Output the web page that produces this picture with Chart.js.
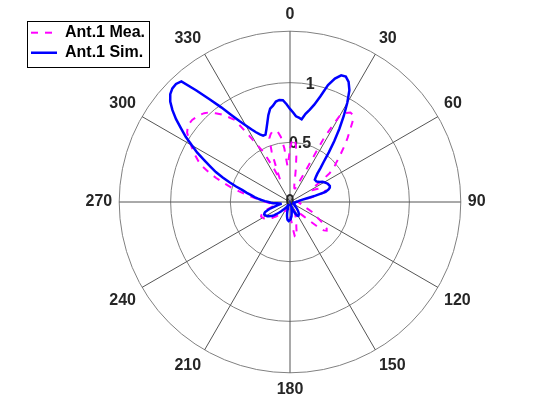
<!DOCTYPE html>
<html><head><meta charset="utf-8">
<script src="https://cdn.jsdelivr.net/npm/chart.js@4.4.0/dist/chart.umd.min.js"></script>
<style>html,body{margin:0;padding:0;background:#fff;} canvas{display:block;}</style>
</head><body>
<canvas id="c" width="560" height="420"></canvas>
<script>
// ---------- data ----------
const angleStep = 2;
const angles = Array.from({length: 360 / angleStep}, (_, i) => i * angleStep); // theta categories, degrees
const thetaTicks = [0, 30, 60, 90, 120, 150, 180, 210, 240, 270, 300, 330];
const rTicks = [0, 0.5, 1];
const rMax = 1.431;
const seriesNames = ['Ant.1 Mea.', 'Ant.1 Sim.'];

// Ant.1 Mea. (one value every 2 degrees, 0..358)
const meaValues = [
 0.45,0.52,0.53,0.48,0.38,0.28,0.20,0.15,0.13,0.12, // 0-18
 0.12,0.13,0.16,0.25,0.62,0.84,0.88,0.905,0.90,0.85, // 20-38
 0.78,0.72,0.66,0.60,0.55,0.50,0.47,0.41,0.32,0.24, // 40-58
 0.20,0.21,0.25,0.28,0.30,0.31,0.31,0.30,0.25,0.18, // 60-78
 0.12,0.10,0.08,0.07,0.07,0.07,0.07,0.08,0.08,0.09, // 80-98
 0.09,0.10,0.10,0.11,0.12,0.14,0.17,0.20,0.22,0.25, // 100-118
 0.27,0.31,0.34,0.38,0.39,0.37,0.30,0.22,0.17,0.14, // 120-138
 0.12,0.10,0.09,0.08,0.08,0.08,0.08,0.09,0.10,0.12, // 140-158
 0.14,0.16,0.19,0.22,0.27,0.30,0.29,0.22,0.16,0.13, // 160-178
 0.12,0.10,0.09,0.08,0.07,0.07,0.06,0.06,0.06,0.06, // 180-198
 0.06,0.07,0.07,0.08,0.08,0.09,0.10,0.11,0.12,0.13, // 200-218
 0.14,0.15,0.17,0.18,0.20,0.21,0.23,0.24,0.25,0.26, // 220-238
 0.26,0.27,0.27,0.26,0.25,0.22,0.20,0.17,0.15,0.14, // 240-258
 0.13,0.14,0.15,0.16,0.18,0.20,0.23,0.26,0.29,0.33, // 260-278
 0.38,0.44,0.51,0.58,0.65,0.72,0.79,0.84,0.88,0.92, // 280-298
 0.96,1.00,1.04,1.06,1.07,1.07,1.06,1.05,1.035,1.01, // 300-318
 0.97,0.93,0.88,0.83,0.68,0.56,0.47,0.33,0.20,0.30, // 320-338
 0.45,0.56,0.59,0.61,0.61,0.60,0.55,0.45,0.30,0.35  // 340-358
];

// Ant.1 Sim. (one value every 2 degrees, 0..358)
const simValues = [
 0.78,0.75,0.72,0.71,0.70,0.75,0.79,0.84,0.92,1.03, // 0-18
 1.10,1.145,1.15,1.12,1.06,0.96,0.85,0.74,0.63,0.53, // 20-38
 0.44,0.38,0.33,0.30,0.28,0.28,0.28,0.29,0.30,0.32, // 40-58
 0.33,0.34,0.35,0.355,0.36,0.355,0.34,0.31,0.22,0.14, // 60-78
 0.10,0.08,0.07,0.06,0.06,0.05,0.05,0.04,0.04,0.04, // 80-98
 0.04,0.03,0.03,0.03,0.03,0.03,0.03,0.03,0.04,0.04, // 100-118
 0.04,0.04,0.05,0.05,0.05,0.06,0.07,0.08,0.09,0.10, // 120-138
 0.11,0.12,0.125,0.13,0.135,0.135,0.13,0.115,0.10,0.08, // 140-158
 0.06,0.05,0.04,0.05,0.06,0.08,0.10,0.12,0.13,0.145, // 160-178
 0.15,0.155,0.16,0.155,0.15,0.135,0.12,0.10,0.08,0.06, // 180-198
 0.05,0.04,0.03,0.03,0.03,0.04,0.04,0.05,0.06,0.07, // 200-218
 0.08,0.09,0.11,0.13,0.15,0.17,0.19,0.20,0.215,0.225, // 220-238
 0.23,0.235,0.24,0.235,0.225,0.20,0.17,0.13,0.10,0.08, // 240-258
 0.08,0.09,0.11,0.14,0.16,0.18,0.21,0.24,0.27,0.30, // 260-278
 0.33,0.37,0.41,0.47,0.53,0.60,0.67,0.73,0.80,0.88, // 280-298
 0.95,1.03,1.10,1.18,1.25,1.31,1.35,1.37,1.375,1.36, // 300-318
 1.22,1.09,0.98,0.88,0.80,0.74,0.69,0.65,0.62,0.60, // 320-338
 0.60,0.64,0.69,0.75,0.80,0.82,0.85,0.86,0.855,0.82  // 340-358
];

// ---------- style ----------
const FONT = '"Liberation Sans", Arial, Helvetica, sans-serif';
const TEXT_COLOR = '#262626';
const rLabelAngleDeg = 9.7;
const legendTop = 20.7;

Chart.defaults.font.family = FONT;

const rLabelsPlugin = {
  id: 'rLabels',
  beforeDatasetsDraw(chart) {
    const s = chart.scales.r;
    const ctx = chart.ctx;
    const a = rLabelAngleDeg * Math.PI / 180;
    ctx.save();
    ctx.font = 'bold 16px ' + FONT;
    ctx.fillStyle = TEXT_COLOR;
    ctx.textAlign = 'center';
    ctx.textBaseline = 'middle';
    rTicks.forEach(v => {
      const d = s.getDistanceFromCenterForValue(v);
      ctx.fillText(String(v), s.xCenter + d * Math.sin(a), s.yCenter - d * Math.cos(a));
    });
    ctx.restore();
  }
};

const legendPlacePlugin = {
  id: 'legendPlace',
  afterLayout(chart) {
    const lg = chart.legend;
    if (!lg) return;
    const h = lg.height;
    lg.top = legendTop;
    lg.bottom = legendTop + h;
  }
};

const legendFramePlugin = {
  id: 'legendFrame',
  afterDraw(chart) {
    const lg = chart.legend;
    if (!lg || !lg.legendHitBoxes || !lg.legendHitBoxes.length) return;
    const hb = lg.legendHitBoxes;
    let l = Infinity, r = -Infinity, t = Infinity, b = -Infinity;
    hb.forEach(h => {
      l = Math.min(l, h.left); r = Math.max(r, h.left + h.width);
      t = Math.min(t, h.top); b = Math.max(b, h.top + h.height);
    });
    const ctx = chart.ctx;
    ctx.save();
    ctx.strokeStyle = '#000';
    ctx.lineWidth = 1;
    ctx.strokeRect(Math.round(l - 4) + 0.5, Math.round(t - 4) + 0.5, Math.round(r - l + 8), Math.round(b - t + 10));
    ctx.restore();
  }
};

new Chart(document.getElementById('c'), {
  type: 'radar',
  data: {
    labels: angles,
    datasets: [
      {
        label: seriesNames[0],
        data: meaValues,
        borderColor: '#ff00ff',
        borderWidth: 2,
        borderDash: [7, 7],
        pointRadius: 0,
        fill: false,
        tension: 0,
        order: 1
      },
      {
        label: seriesNames[1],
        data: simValues,
        borderColor: '#0000ff',
        borderWidth: 2.5,
        pointRadius: 0,
        fill: false,
        tension: 0,
        order: 0
      }
    ]
  },
  options: {
    responsive: false,
    animation: false,
    devicePixelRatio: 1,
    layout: { padding: { left: 27, right: 6, top: 5, bottom: 21 } },
    plugins: {
      tooltip: { enabled: false },
      legend: {
        position: 'chartArea',
        align: 'start',
        labels: {
          usePointStyle: true,
          pointStyle: 'line',
          pointStyleWidth: 26,
          padding: 4,
          color: '#000',
          font: { size: 16, weight: 'bold', family: FONT },
          sort: (a, b) => a.datasetIndex - b.datasetIndex,
          generateLabels: (chart) => {
            const items = Chart.defaults.plugins.legend.labels.generateLabels(chart);
            items.forEach(it => {
              const ds = chart.data.datasets[it.datasetIndex];
              it.strokeStyle = ds.borderColor;
              it.lineWidth = ds.borderWidth;
              it.lineDash = ds.borderDash || [];
              it.pointStyle = 'line';
            });
            return items;
          }
        }
      }
    },
    scales: {
      r: {
        min: 0,
        max: rMax,
        afterBuildTicks: (scale) => { scale.ticks = rTicks.concat([rMax]).map(v => ({ value: v })); },
        ticks: { display: false },
        grid: { circular: true, color: '#808080', lineWidth: 1 },
        angleLines: {
          display: true,
          color: '#555555',
          lineWidth: (ctx) => thetaTicks.includes(angles[ctx.index]) ? 1 : 0
        },
        pointLabels: {
          display: true,
          padding: 7,
          color: TEXT_COLOR,
          font: { size: 16, weight: 'bold', family: FONT },
          callback: (label) => thetaTicks.includes(label) ? String(label) : ''
        }
      }
    }
  },
  plugins: [rLabelsPlugin, legendPlacePlugin, legendFramePlugin]
});
</script>
</body></html>
